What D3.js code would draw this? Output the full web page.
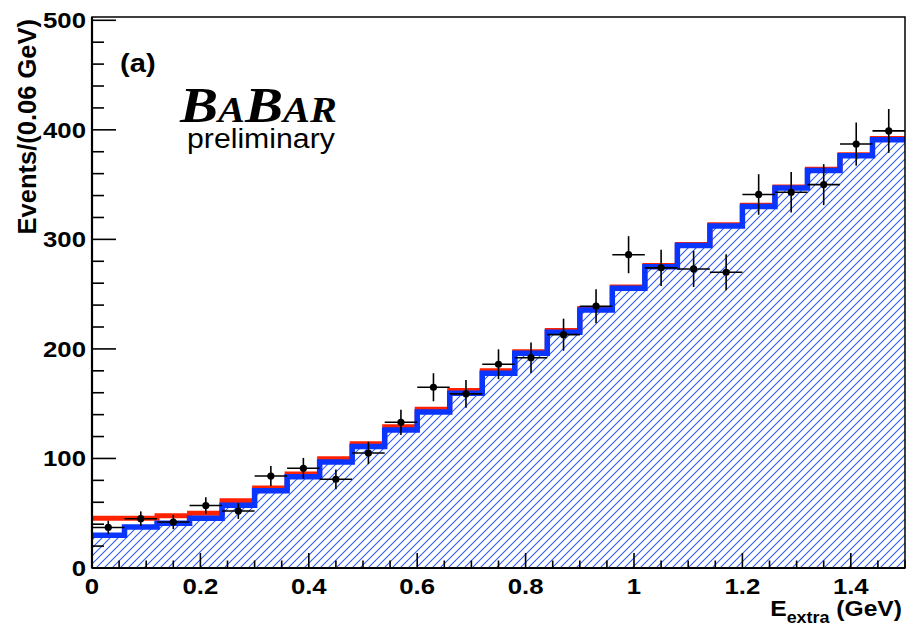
<!DOCTYPE html>
<html>
<head>
<meta charset="utf-8">
<script src="https://cdn.jsdelivr.net/npm/d3@7"></script>
<style>
  body { margin: 0; background: #fff; }
  svg { display: block; }
</style>
</head>
<body>
<div id="chart"></div>
<script>
// bin centres (GeV), bin width 0.06
const binCenters = [0.03, 0.09, 0.15, 0.21, 0.27, 0.33, 0.39, 0.45, 0.51, 0.57,
                    0.63, 0.69, 0.75, 0.81, 0.87, 0.93, 0.99, 1.05, 1.11, 1.17,
                    1.23, 1.29, 1.35, 1.41, 1.47];
const binWidth = 0.06;

// data points and their errors
const dataCounts = [37, 45, 42, 57, 52, 84, 91, 81, 105, 133,
                    165, 159, 186, 192, 213, 239, 286, 274, 273, 270,
                    341, 343, 350, 387, 399];
const dataErrors = [6.1, 6.7, 6.5, 7.5, 7.2, 9.2, 9.5, 9.0, 10.2, 11.5,
                    12.8, 12.6, 13.6, 13.9, 14.6, 15.5, 16.9, 16.6, 16.5, 16.4,
                    18.5, 18.5, 18.7, 19.7, 20.0];

// total fit (red) and background (blue, hatched)
const totalFit = [45.4, 45.4, 47.8, 50, 61.5, 73, 85.8, 99.8, 113.5, 129,
                  145, 162, 180, 197.5, 216.7, 236.8, 256.6, 276.2, 295.4, 313.4,
                  331.1, 347.9, 363.9, 377.3, 392];
const bkgFit = [30, 37.4, 40.8, 45.4, 57.3, 70.6, 83.4, 96.8, 111, 126,
                142.5, 159.5, 177.8, 196, 215.2, 235.6, 255.4, 275, 294.3, 312.3,
                330, 346.8, 362.9, 376.3, 391];

const xTicks = [0, 0.2, 0.4, 0.6, 0.8, 1, 1.2, 1.4];
const xTickLabels = ["0", "0.2", "0.4", "0.6", "0.8", "1", "1.2", "1.4"];
const yTicks = [0, 100, 200, 300, 400, 500];

const W = 906, H = 627;
const frame = {left: 92, right: 905, top: 17, bottom: 568};

const svg = d3.select("#chart")
  .append("svg")
    .attr("width", W)
    .attr("height", H);

const x = d3.scaleLinear().domain([0, 1.5]).range([frame.left, frame.right]);
const y = d3.scaleLinear().domain([0, 503]).range([frame.bottom, frame.top]);

// hatch pattern (ROOT style 3004)
const defs = svg.append("defs");
const pat = defs.append("pattern")
  .attr("id", "hatch")
  .attr("patternUnits", "userSpaceOnUse")
  .attr("width", 8).attr("height", 8);
pat.append("path")
  .attr("d", "M-2,2 L2,-2 M0,8 L8,0 M6,10 L10,6")
  .attr("fill", "none")
  .attr("stroke", "#2a58ff")
  .attr("stroke-width", 1.05);

defs.append("clipPath").attr("id", "plotclip")
  .append("rect")
    .attr("x", frame.left).attr("y", frame.top)
    .attr("width", frame.right - frame.left)
    .attr("height", frame.bottom - frame.top);

// step points: left edge of every bin + right edge of last bin
function steps(vals) {
  const pts = binCenters.map((c, i) => [c - binWidth / 2, vals[i]]);
  pts.push([binCenters[binCenters.length - 1] + binWidth / 2, vals[vals.length - 1]]);
  return pts;
}

const plot = svg.append("g").attr("clip-path", "url(#plotclip)");

// hatched background area
plot.append("path")
  .datum(steps(bkgFit))
  .attr("fill", "url(#hatch)")
  .attr("stroke", "none")
  .attr("d", d3.area()
    .curve(d3.curveStepAfter)
    .x(d => x(d[0]))
    .y0(y(0))
    .y1(d => y(d[1])));

const stepLine = d3.line()
  .curve(d3.curveStepAfter)
  .x(d => x(d[0]))
  .y(d => y(d[1]));

plot.append("path")
  .datum(steps(totalFit))
  .attr("fill", "none")
  .attr("stroke", "#ff2200")
  .attr("stroke-width", 5)
  .attr("d", stepLine);

plot.append("path")
  .datum(steps(bkgFit))
  .attr("fill", "none")
  .attr("stroke", "#0a35ff")
  .attr("stroke-width", 5.5)
  .attr("d", stepLine);

// data points with errors
const pts = plot.append("g");
binCenters.forEach((c, i) => {
  pts.append("line")
    .attr("x1", x(c - binWidth / 2)).attr("x2", x(c + binWidth / 2))
    .attr("y1", y(dataCounts[i])).attr("y2", y(dataCounts[i]))
    .attr("stroke", "#000").attr("stroke-width", 1.6);
  pts.append("line")
    .attr("x1", x(c)).attr("x2", x(c))
    .attr("y1", y(dataCounts[i] - dataErrors[i])).attr("y2", y(dataCounts[i] + dataErrors[i]))
    .attr("stroke", "#000").attr("stroke-width", 1.6);
  pts.append("circle")
    .attr("cx", x(c)).attr("cy", y(dataCounts[i]))
    .attr("r", 3.6)
    .attr("fill", "#000");
});

// frame
svg.append("rect")
  .attr("x", frame.left).attr("y", frame.top)
  .attr("width", frame.right - frame.left)
  .attr("height", frame.bottom - frame.top)
  .attr("fill", "none")
  .attr("stroke", "#000")
  .attr("stroke-width", 1.5);
svg.append("line")
  .attr("x1", frame.left).attr("x2", frame.left)
  .attr("y1", frame.top).attr("y2", frame.bottom)
  .attr("stroke", "#000").attr("stroke-width", 2.2);
svg.append("line")
  .attr("x1", frame.left).attr("x2", frame.right)
  .attr("y1", frame.bottom).attr("y2", frame.bottom)
  .attr("stroke", "#000").attr("stroke-width", 2.2);

// ticks (ROOT style, inside the frame)
const ticks = svg.append("g").attr("stroke", "#000").attr("stroke-width", 1.6);
d3.range(0, 501, 20).forEach(v => {
  const major = v % 100 === 0;
  ticks.append("line")
    .attr("x1", frame.left).attr("x2", frame.left + (major ? 24 : 12))
    .attr("y1", y(v)).attr("y2", y(v));
});
d3.range(0, 31).forEach(k => {
  const v = k * 0.05;
  const major = k % 4 === 0;
  ticks.append("line")
    .attr("x1", x(v)).attr("x2", x(v))
    .attr("y1", frame.bottom).attr("y2", frame.bottom - (major ? 15 : 7.5));
});

const sx = 1.12; // horizontal stretch of the labels
const font = "'Liberation Sans', Arial, Helvetica, sans-serif";

function label(px, py, txt, size, anchor, weight) {
  return svg.append("text")
    .attr("transform", `translate(${px},${py}) scale(${sx},1)`)
    .attr("text-anchor", anchor)
    .attr("font-family", font)
    .attr("font-weight", weight || "bold")
    .attr("font-size", size)
    .text(txt);
}

yTicks.forEach(v => label(86, y(v) + 8, String(v), 23, "end"));
xTicks.forEach((v, i) => label(x(v), 594, xTickLabels[i], 23, "middle"));

// axis titles
svg.append("text")
  .attr("transform", "translate(36,19) rotate(-90)")
  .attr("text-anchor", "end")
  .attr("font-family", font)
  .attr("font-weight", "bold")
  .attr("font-size", 25.5)
  .text("Events/(0.06 GeV)");

const xt = svg.append("text")
  .attr("transform", `translate(902,616) scale(${sx},1)`)
  .attr("text-anchor", "end")
  .attr("font-family", font)
  .attr("font-weight", "bold")
  .attr("font-size", 22);
xt.append("tspan").text("E");
xt.append("tspan").attr("font-size", 16).attr("dy", 7).text("extra");
xt.append("tspan").attr("dy", -7).text(" (GeV)");

// panel label and logo
label(120, 72, "(a)", 26, "start");

const logo = svg.append("text")
  .attr("transform", `translate(180,122) scale(${sx},1)`)
  .attr("font-family", "'Liberation Serif', 'Times New Roman', serif")
  .attr("font-weight", "bold")
  .attr("font-style", "italic")
  .attr("font-size", 51)
  .text("B");
logo.append("tspan").attr("font-size", 36).text("A");
logo.append("tspan").text("B");
logo.append("tspan").attr("font-size", 36).text("AR");

label(187, 148, "preliminary", 27, "start", "normal");
</script>
</body>
</html>
